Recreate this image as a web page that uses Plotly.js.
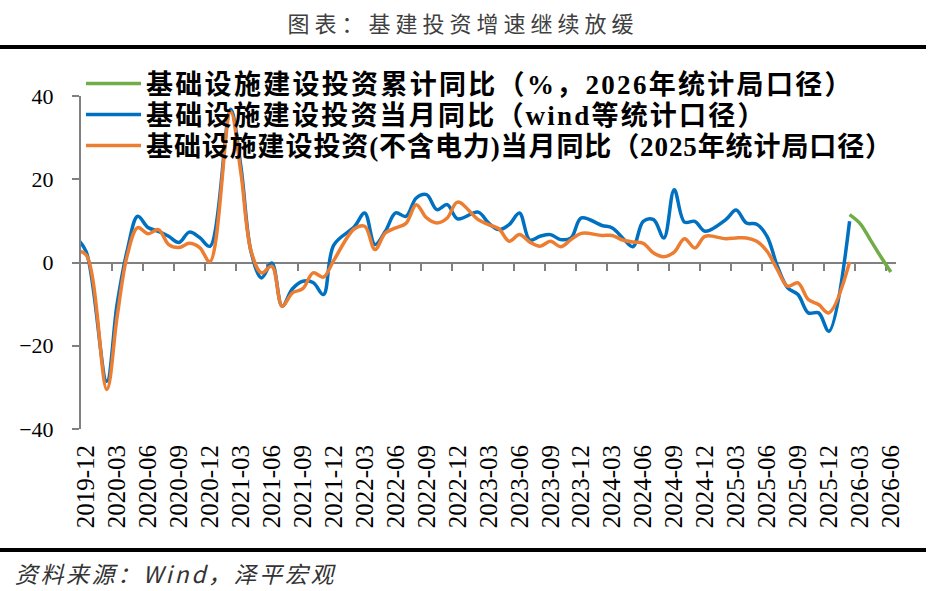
<!DOCTYPE html>
<html>
<head>
<meta charset="utf-8">
<script src="https://cdn.plot.ly/plotly-3.0.1.min.js"></script>
<style>
  html, body { margin: 0; padding: 0; background: #fff; }
  #chart { width: 930px; height: 591px; }
  .annotation[data-index="0"] .annotation-text { letter-spacing: 5px; }
  .annotation[data-index="1"] .annotation-text { letter-spacing: 2.6px; }
  /* each legend names its text class after its own id */
  .legendtext { letter-spacing: 2.3px; }
  .legend2text { letter-spacing: 2.2px; }
  .legend3text { letter-spacing: 0.9px; }
</style>
</head>
<body>
<div id="chart"></div>
<script>
// months from 2019-11 to 2026-06 (2019-11 sits just left of the axis)
const months = [];
for (let y = 2019; y <= 2026; y++) {
    for (let m = 1; m <= 12; m++) {
        if (y === 2019 && m < 11) continue;
        if (y === 2026 && m > 6) break;
        months.push(y + "-" + String(m).padStart(2, "0"));
    }
}

// x labels every 3 months
const labelMonths = ["2019-12", "2020-03", "2020-06", "2020-09", "2020-12", "2021-03", "2021-06", "2021-09",
                     "2021-12", "2022-03", "2022-06", "2022-09", "2022-12", "2023-03", "2023-06", "2023-09",
                     "2023-12", "2024-03", "2024-06", "2024-09", "2024-12", "2025-03", "2025-06", "2025-09",
                     "2025-12", "2026-03", "2026-06"];

// tick marks on the zero axis sit on the boundaries before each labelled month
const boundaryTicks = [3.5, 6.5, 9.5, 12.5, 15.5, 18.5, 21.5, 24.5, 27.5, 30.5, 33.5, 36.5, 39.5,
                       42.5, 45.5, 48.5, 51.5, 54.5, 57.5, 60.5, 63.5, 66.5, 69.5, 72.5, 75.5, 78.5];

// 基础设施建设投资当月同比（wind等统计口径）, 2019-11 .. 2026-02, January not published
const monthlyWind = [6.0, 2.6, null, -28.5, -10, 3.1, 11.1, 8.4, 7.5, 6.3, 4.8, 7.3, 6.0, 3.9,
    null, 36.8, 23, 2.4, -3.7, -0.1, -10.5, -6.3, -4.5, -4.8, -7.7, 4.2,
    null, 8.6, 11.9, 4.3, 7.5, 11.9, 11.1, 15.5, 16.3, 12.7, 13.9, 10.5,
    null, 12.1, 9.5, 7.9, 9.1, 11.9, 5.4, 6.3, 6.7, 5.5, 5.9, 10.7,
    null, 8.9, 8.3, 5.9, 3.8, 9.9, 10.3, 5.9, 17.5, 9.7, 9.9, 7.5,
    null, 10.3, 12.6, 9.5, 9.2, 6.3, -0.9, -6.1, -7.7, -12.1, -12.1, -16.5,
    null, 9.9];

// 基础设施建设投资(不含电力)当月同比（2025年统计局口径）
const monthlyExPower = [2.8, 1.8, null, -30.5, -13, 1.9, 8.4, 6.9, 7.9, 4.3, 3.6, 4.6, 3.6, 0.2,
    null, 36.2, 21.5, 2.6, -2.5, -0.9, -10.5, -7.3, -6.3, -2.5, -3.5, 0.5,
    null, 8.1, 8.7, 3.1, 7.1, 8.3, 9.4, 13.9, 10.7, 9.5, 10.7, 14.5,
    null, 10.3, 9.1, 8.1, 5.1, 6.7, 4.9, 3.9, 5.1, 3.8, 5.5, 7.0,
    null, 6.5, 6.5, 5.4, 4.9, 4.6, 2.3, 1.4, 2.5, 5.7, 3.5, 6.3,
    null, 5.7, 5.9, 5.9, 5.1, 2.7, -1.7, -5.7, -4.9, -8.9, -10.1, -12.1,
    null, 0.1];

// 基础设施建设投资累计同比（%，2026年统计局口径）, 2026-02 .. 2026-06
const cumMonths = ["2026-02", "2026-03", "2026-04", "2026-05", "2026-06"];
const cumYoY = [11.5, 9.4, 5.5, 1.5, -2.3];

const serif = "Liberation Serif, Times New Roman, serif";
const legendFamily = "Liberation Serif, Noto Sans CJK SC, serif";
const axisGrey = "#808080";

let data = [
    {
        x: cumMonths, y: cumYoY, type: "scatter", mode: "lines",
        name: "基础设施建设投资累计同比（%，2026年统计局口径）",
        legend: "legend",
        line: {color: "#70AD47", width: 3.5, shape: "spline"}
    },
    {
        x: months.slice(0, monthlyWind.length), y: monthlyWind, type: "scatter", mode: "lines",
        name: "基础设施建设投资当月同比（wind等统计口径）",
        legend: "legend2",
        connectgaps: true,
        line: {color: "#0070C0", width: 3.5, shape: "spline"}
    },
    {
        x: months.slice(0, monthlyExPower.length), y: monthlyExPower, type: "scatter", mode: "lines",
        name: "基础设施建设投资(不含电力)当月同比（2025年统计局口径）",
        legend: "legend3",
        connectgaps: true,
        line: {color: "#ED7D31", width: 3.5, shape: "spline"}
    },
    // holder so the zero-line axis gets drawn
    {
        x: [boundaryTicks[0]], y: [null], xaxis: "x2", type: "scatter", mode: "lines",
        showlegend: false, hoverinfo: "skip"
    }
];

// paper coords for things outside the plot area
const plotL = 81, plotR = 896, plotT = 96, plotB = 429;
const px = v => (v - plotL) / (plotR - plotL);
const py = v => (plotB - v) / (plotB - plotT);

// one legend per row so the rows can sit as tight as in the original
function legendRow(rowY) {
    return {
        x: 0, y: py(rowY), xanchor: "left", yanchor: "middle",
        bgcolor: "rgba(0,0,0,0)",
        font: {family: legendFamily, size: 27, color: "#000000", weight: "bold"},
        itemwidth: 55
    };
}

let layout = {
    width: 930,
    height: 591,
    margin: {l: plotL, r: 930 - plotR, t: plotT, b: 591 - plotB},
    paper_bgcolor: "#ffffff",
    plot_bgcolor: "#ffffff",
    showlegend: true,
    legend: legendRow(84),
    legend2: legendRow(115),
    legend3: legendRow(146),
    xaxis: {
        type: "category",
        categoryorder: "array",
        categoryarray: months,
        range: [0.5, months.length - 0.5],
        tickmode: "array",
        tickvals: labelMonths,
        ticktext: labelMonths,
        tickangle: -90,
        ticks: "",
        showline: false,
        showgrid: false,
        zeroline: false,
        ticklabelstandoff: 10,
        tickfont: {family: serif, size: 25, color: "#000000"}
    },
    xaxis2: {
        type: "linear",
        overlaying: "x",
        anchor: "free",
        position: 0.5,
        range: [0.5, months.length - 0.5],
        tickmode: "array",
        tickvals: boundaryTicks,
        showticklabels: false,
        ticks: "outside",
        ticklen: 7,
        tickwidth: 2,
        tickcolor: axisGrey,
        showline: true,
        linecolor: axisGrey,
        linewidth: 2,
        showgrid: false,
        zeroline: false,
        layer: "below traces"
    },
    yaxis: {
        range: [-40, 40],
        tickmode: "array",
        tickvals: [-40, -20, 0, 20, 40],
        ticks: "outside",
        ticklen: 7,
        tickwidth: 2,
        tickcolor: axisGrey,
        showline: true,
        linecolor: axisGrey,
        linewidth: 2,
        showgrid: false,
        zeroline: false,
        layer: "below traces",
        ticklabelstandoff: 14,
        tickfont: {family: serif, size: 22, color: "#000000"}
    },
    shapes: [
        {type: "line", xref: "paper", yref: "paper", x0: px(0), x1: px(926), y0: py(47), y1: py(47),
         line: {color: "#000000", width: 4}},
        {type: "line", xref: "paper", yref: "paper", x0: px(0), x1: px(926), y0: py(550), y1: py(550),
         line: {color: "#000000", width: 4}}
    ],
    annotations: [
        {
            text: "图表：基建投资增速继续放缓",
            xref: "paper", yref: "paper", x: px(463), y: py(22),
            xanchor: "center", yanchor: "middle", showarrow: false,
            font: {family: "Noto Sans CJK SC, sans-serif", size: 22, color: "#404040"}
        },
        {
            text: "资料来源：Wind，泽平宏观",
            xref: "paper", yref: "paper", x: px(31), y: py(573),
            xanchor: "left", yanchor: "middle", showarrow: false,
            font: {family: "Noto Sans CJK SC, sans-serif", size: 23, color: "#333333", style: "italic"}
        }
    ]
};

Plotly.newPlot("chart", data, layout, {displayModeBar: false, staticPlot: true});
</script>
</body>
</html>
